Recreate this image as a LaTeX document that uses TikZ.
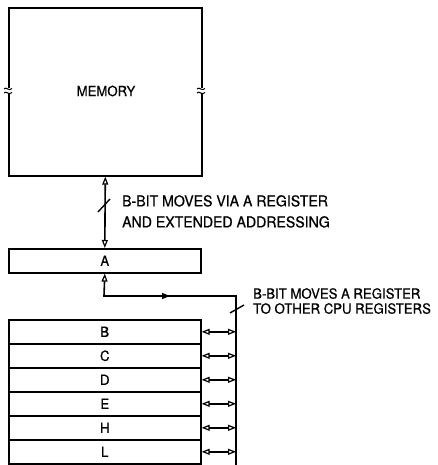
\documentclass[tikz,border=0pt]{standalone}
\usepackage{fontspec}
\setmainfont{TeX Gyre Heros}[FakeStretch=0.94,FakeBold=0.6]
\usetikzlibrary{arrows.meta,decorations.markings}
\begin{document}
\begin{tikzpicture}[x=1pt,y=-1pt,
  every node/.style={font=\fontsize{14}{22}\selectfont},
  box/.style={draw,line width=1.6pt,rectangle,inner sep=0pt},
  reg/.style={box,minimum width=192pt,minimum height=24pt,anchor=north west},
  conn/.style={line width=1.6pt},
  otri/.tip={Triangle[open,length=8pt,width=6pt,line width=1.2pt]},
  lbl/.style={align=left,inner sep=0pt,anchor=north west},
  tick/.style={line width=1.4pt}]
\useasboundingbox (0,0) rectangle (437,465);
% memory
\node[box,minimum width=193pt,minimum height=168pt,anchor=north west] (mem) at (8,7) {};
\node at (106,91) {MEMORY};
% break marks
\fill[white] (4,88) rectangle (12,93);
\draw[line width=1pt] (4,89) .. controls (6,86) and (9,92) .. (12,88.5);
\draw[line width=1pt] (4,93) .. controls (6,90) and (9,96) .. (12,92.5);
\fill[white] (197,88) rectangle (205,93);
\draw[line width=1pt] (197,89) .. controls (199,86) and (202,92) .. (205,88.5);
\draw[line width=1pt] (197,93) .. controls (199,90) and (202,96) .. (205,92.5);
% registers
\node[reg] (rA) at (8,248) {A};
\node[reg] (rB) at (8,319) {B};
\node[reg] (rC) at (8,343) {C};
\node[reg] (rD) at (8,367) {D};
\node[reg] (rE) at (8,391) {E};
\node[reg] (rH) at (8,415) {H};
\node[reg] (rL) at (8,439) {L};
% memory <-> A
\draw[conn,{otri}-{otri}] (mem.south) -- (rA.north);
\draw[tick] (98,212) -- (110,199);
\node[lbl,font=\fontsize{15}{21}\selectfont] at (122,195) {B-BIT MOVES VIA A REGISTER\\AND EXTENDED ADDRESSING};
% A <-> bus
\coordinate (c1) at (104,296);
\coordinate (c2) at (236,296);
\coordinate (busend) at (236,465);
\draw[conn,{otri}-] (rA.south) -- (c1) -- (c2) -- (busend);
\path[postaction={decorate,decoration={markings,mark=at position 0.5 with {\arrow[line width=1.6pt]{otri}}}}] (c1) -- (c2);
\draw[tick] (230,313) -- (244,305);
\node[lbl,font=\fontsize{14}{15}\selectfont] at (253,288) {B-BIT MOVES A REGISTER\\TO OTHER CPU REGISTERS};
% register <-> bus
\foreach \r in {rB,rC,rD,rE,rH,rL}{
  \draw[conn,{otri}-{otri}] (\r.east) -- (\r.east -| c2);
}
\end{tikzpicture}
\end{document}
